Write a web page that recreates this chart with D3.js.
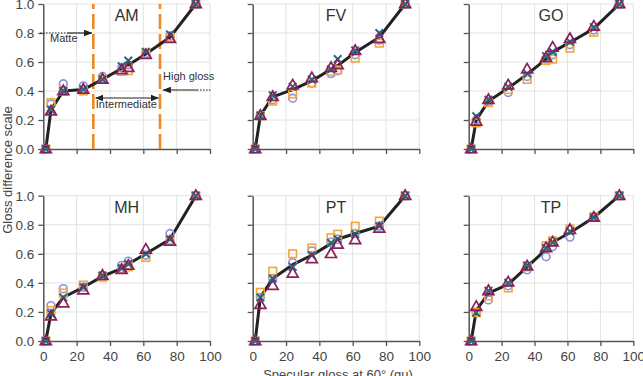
<!DOCTYPE html>
<html><head><meta charset="utf-8">
<script src="https://cdn.jsdelivr.net/npm/d3@7"></script>
<style>body{margin:0;background:#fff}svg{display:block;font-family:"Liberation Sans",Arial,sans-serif}</style>
</head><body><svg id="c" width="643" height="376"></svg>
<script>
const glossX = [1.5, 4.6, 12, 24, 35.5, 47, 51, 61.5, 76, 91.5];
const xTicks = [0, 20, 40, 60, 80, 100];
const yTicks = [0, 0.2, 0.4, 0.6, 0.8, 1.0];
const panelNames = ["AM", "FV", "GO", "MH", "PT", "TP"];

const amMean     = [0, 0.27, 0.40, 0.41, 0.48, 0.555, 0.58, 0.655, 0.77, 1];
const amCircle   = [0, 0.31, 0.45, 0.435, 0.50, 0.56, 0.58, 0.66, 0.78, 1];
const amSquare   = [0, 0.32, 0.40, 0.40, 0.48, 0.535, 0.54, 0.655, 0.77, 1];
const amCross    = [0, 0.27, 0.40, 0.41, 0.48, 0.57, 0.61, 0.67, 0.79, 1];
const amTriangle = [0, 0.26, 0.40, 0.41, 0.48, 0.545, 0.56, 0.65, 0.76, 1];

const fvMean     = [0, 0.23, 0.36, 0.41, 0.47, 0.55, 0.575, 0.665, 0.77, 1];
const fvCircle   = [0, 0.23, 0.34, 0.35, 0.455, 0.52, 0.54, 0.65, 0.75, 1];
const fvSquare   = [0, 0.23, 0.33, 0.38, 0.455, 0.535, 0.545, 0.626, 0.73, 1];
const fvCross    = [0, 0.23, 0.37, 0.43, 0.48, 0.55, 0.62, 0.68, 0.80, 1];
const fvTriangle = [0, 0.23, 0.36, 0.44, 0.49, 0.56, 0.58, 0.677, 0.76, 1];

const goMean     = [0, 0.20, 0.33, 0.42, 0.515, 0.62, 0.67, 0.735, 0.83, 1];
const goCircle   = [0, 0.20, 0.33, 0.39, 0.50, 0.62, 0.65, 0.72, 0.82, 1];
const goSquare   = [0, 0.18, 0.32, 0.41, 0.48, 0.61, 0.62, 0.695, 0.805, 1];
const goCross    = [0, 0.225, 0.34, 0.43, 0.52, 0.64, 0.67, 0.74, 0.84, 1];
const goTriangle = [0, 0.19, 0.34, 0.44, 0.55, 0.63, 0.70, 0.76, 0.845, 1];

const mhMean     = [0, 0.19, 0.30, 0.37, 0.445, 0.50, 0.53, 0.60, 0.70, 1];
const mhCircle   = [0, 0.243, 0.36, 0.37, 0.45, 0.52, 0.55, 0.59, 0.74, 1];
const mhSquare   = [0, 0.21, 0.33, 0.385, 0.44, 0.50, 0.51, 0.575, 0.695, 1];
const mhCross    = [0, 0.19, 0.30, 0.37, 0.45, 0.50, 0.53, 0.60, 0.70, 1];
const mhTriangle = [0, 0.17, 0.26, 0.35, 0.45, 0.49, 0.52, 0.63, 0.685, 1];

const ptMean     = [0, 0.30, 0.43, 0.525, 0.59, 0.67, 0.70, 0.74, 0.79, 1];
const ptCircle   = [0, 0.30, 0.43, 0.54, 0.62, 0.68, 0.70, 0.74, 0.79, 1];
const ptSquare   = [0, 0.335, 0.48, 0.60, 0.64, 0.71, 0.735, 0.79, 0.825, 1];
const ptCross    = [0, 0.30, 0.43, 0.51, 0.59, 0.675, 0.70, 0.735, 0.79, 1];
const ptTriangle = [0, 0.25, 0.38, 0.465, 0.565, 0.60, 0.665, 0.695, 0.775, 1];

const tpMean     = [0, 0.21, 0.33, 0.39, 0.51, 0.63, 0.68, 0.745, 0.85, 1];
const tpCircle   = [0, 0.20, 0.283, 0.38, 0.49, 0.58, 0.65, 0.715, 0.85, 1];
const tpSquare   = [0, 0.195, 0.31, 0.365, 0.51, 0.655, 0.69, 0.77, 0.855, 1];
const tpCross    = [0, 0.195, 0.345, 0.40, 0.52, 0.64, 0.68, 0.755, 0.85, 1];
const tpTriangle = [0, 0.236, 0.345, 0.405, 0.515, 0.64, 0.68, 0.765, 0.85, 1];

const meanSets = [amMean, fvMean, goMean, mhMean, ptMean, tpMean];
const circleSets = [amCircle, fvCircle, goCircle, mhCircle, ptCircle, tpCircle];
const squareSets = [amSquare, fvSquare, goSquare, mhSquare, ptSquare, tpSquare];
const crossSets = [amCross, fvCross, goCross, mhCross, ptCross, tpCross];
const triangleSets = [amTriangle, fvTriangle, goTriangle, mhTriangle, ptTriangle, tpTriangle];

const colX = [[43.3, 210], [252.7, 419.3], [468.7, 633.3]];
const rowY = [[149, 4], [341, 195.7]];

const svg = d3.select("#c");
const cCircle = "#8f90d8", cSquare = "#f5a53c", cCross = "#1f6f82", cTri = "#8a1f5e";
const crossPath = "M-3.8,-3.8L3.8,3.8M-3.8,3.8L3.8,-3.8";

panelNames.forEach((name, i) => {
  const col = i % 3, row = Math.floor(i / 3);
  const x = d3.scaleLinear().domain([0, 100]).range(colX[col]);
  const y = d3.scaleLinear().domain([0, 1]).range(rowY[row]);
  const g = svg.append("g");
  g.selectAll(".vg").data(xTicks.slice(1)).join("line")
    .attr("x1", d => x(d)).attr("x2", d => x(d)).attr("y1", y(0)).attr("y2", y(1))
    .attr("stroke", "#e2e2e2").attr("stroke-width", 1);
  g.selectAll(".hg").data(yTicks.slice(1)).join("line")
    .attr("x1", x(0)).attr("x2", x(100)).attr("y1", d => y(d)).attr("y2", d => y(d))
    .attr("stroke", "#e2e2e2").attr("stroke-width", 1);
  const ax = g.append("g").attr("transform", `translate(0,${y(0)})`)
    .call(d3.axisBottom(x).tickValues(xTicks).tickSize(5).tickSizeOuter(0)
      .tickFormat(row === 1 ? d3.format("d") : () => ""));
  const ay = g.append("g").attr("transform", `translate(${x(0)},0)`)
    .call(d3.axisLeft(y).tickValues(yTicks).tickSize(5).tickSizeOuter(0)
      .tickFormat(col === 0 ? d3.format(".1f") : () => ""));
  [ax, ay].forEach(a => {
    a.select(".domain").attr("stroke", "#555").attr("stroke-width", 1.5);
    a.selectAll(".tick line").attr("stroke", "#555").attr("stroke-width", 1.3);
    a.selectAll("text").attr("fill", "#444").style("font-size", "13.5px")
      .style("font-family", '"Liberation Sans",Arial,sans-serif');
  });
  ax.selectAll("text").attr("dy", "0.9em");
  ay.selectAll("text").attr("dx", "-1px");

  if (name === "AM") {
    g.selectAll(".dl").data([30, 70]).join("line")
      .attr("x1", d => x(d)).attr("x2", d => x(d)).attr("y1", y(0)).attr("y2", y(1))
      .attr("stroke", "#f0892a").attr("stroke-width", 2.6).attr("stroke-dasharray", "15,5");
  }
  g.append("text").attr("x", x(50)).attr("y", y(1) + 17).attr("text-anchor", "middle")
    .attr("fill", "#333").style("font-size", "16px").text(name);

  const line = d3.line().x((d, j) => x(glossX[j])).y(d => y(d));
  g.append("path").datum(meanSets[i]).attr("d", line).attr("fill", "none")
    .attr("stroke", "#222").attr("stroke-width", 3).attr("stroke-linejoin", "round");

  const pts = arr => arr.map((v, j) => [x(glossX[j]), y(v)]);
  g.selectAll(".ci").data(pts(circleSets[i])).join("circle")
    .attr("cx", d => d[0]).attr("cy", d => d[1]).attr("r", 3.9)
    .attr("fill", "none").attr("stroke", cCircle).attr("stroke-width", 1.6);
  g.selectAll(".sq").data(pts(squareSets[i])).join("rect")
    .attr("x", d => d[0] - 3.8).attr("y", d => d[1] - 3.8).attr("width", 7.6).attr("height", 7.6)
    .attr("fill", "none").attr("stroke", cSquare).attr("stroke-width", 1.6);
  g.selectAll(".cr").data(pts(crossSets[i])).join("path")
    .attr("transform", d => `translate(${d[0]},${d[1]})`).attr("d", crossPath)
    .attr("fill", "none").attr("stroke", cCross).attr("stroke-width", 2);
  const tri = d3.symbol().type(d3.symbolTriangle).size(52);
  g.selectAll(".tr").data(pts(triangleSets[i])).join("path")
    .attr("transform", d => `translate(${d[0]},${d[1] + 0.5})`).attr("d", tri)
    .attr("fill", "none").attr("stroke", cTri).attr("stroke-width", 1.7);

  if (name === "AM") {
    const ann = svg.append("g").attr("fill", "#333").style("font-size", "11px");
    const defs = svg.append("defs");
    defs.append("marker").attr("id", "ah").attr("viewBox", "0 0 10 10").attr("refX", 9).attr("refY", 5)
      .attr("markerWidth", 7).attr("markerHeight", 7).attr("orient", "auto-start-reverse")
      .append("path").attr("d", "M0,1L10,5L0,9Z").attr("fill", "#222");
    const yM = y(0.8);
    ann.append("line").attr("x1", 40).attr("x2", 67).attr("y1", yM).attr("y2", yM)
      .attr("stroke", "#222").attr("stroke-width", 1.2).attr("stroke-dasharray", "1.5,1.5");
    ann.append("line").attr("x1", 67).attr("x2", x(29)).attr("y1", yM).attr("y2", yM)
      .attr("stroke", "#222").attr("stroke-width", 1.2).attr("marker-end", "url(#ah)");
    ann.append("text").attr("x", 50).attr("y", yM + 9).text("Matte");
    const yI = 98;
    ann.append("line").attr("x1", x(31.5)).attr("x2", x(69)).attr("y1", yI).attr("y2", yI)
      .attr("stroke", "#222").attr("stroke-width", 1.2)
      .attr("marker-start", "url(#ah)").attr("marker-end", "url(#ah)");
    ann.append("text").attr("x", x(31.5)).attr("y", yI + 9.5).text("Intermediate");
    const yH = 90;
    ann.append("line").attr("x1", 197).attr("x2", 212).attr("y1", yH).attr("y2", yH)
      .attr("stroke", "#222").attr("stroke-width", 1.2).attr("stroke-dasharray", "1.5,1.5");
    ann.append("line").attr("x1", 197).attr("x2", x(72)).attr("y1", yH).attr("y2", yH)
      .attr("stroke", "#222").attr("stroke-width", 1.2).attr("marker-end", "url(#ah)");
    ann.append("text").attr("x", 163).attr("y", 80).text("High gloss");
  }
});

svg.append("text").attr("transform", "translate(12,170) rotate(-90)").attr("text-anchor", "middle")
  .attr("fill", "#444").style("font-size", "13px").text("Gloss difference scale");
svg.append("text").attr("x", 338).attr("y", 379).attr("text-anchor", "middle")
  .attr("fill", "#444").style("font-size", "13px").text("Specular gloss at 60° (gu)");
</script></body></html>
